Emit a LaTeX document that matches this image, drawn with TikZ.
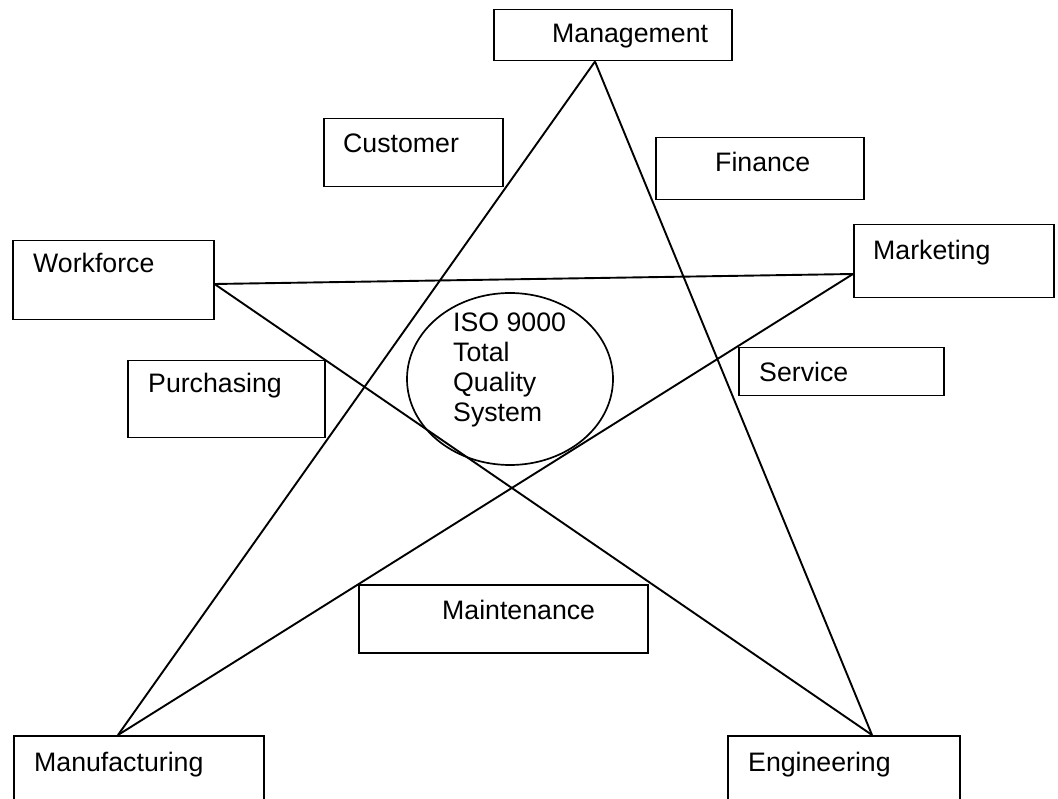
\documentclass[tikz,border=0pt]{standalone}
\usepackage{fontspec}
\setmainfont{Liberation Sans}
\usetikzlibrary{calc,shapes.geometric}
\begin{document}
\begin{tikzpicture}[x=1pt,y=-1pt,
  box/.style={draw, line width=1.5pt, rectangle, inner sep=0pt, anchor=north west},
  lbl/.style={anchor=base west, inner sep=0pt, font=\fontsize{26.7}{30}\selectfont},
  link/.style={line width=1.9pt}]
\useasboundingbox (0,0) rectangle (1058,799);
\clip (0,0) rectangle (1058,799);

% department boxes
\node[box, minimum width=238pt, minimum height=51pt] (mgmt)  at (493,9)   {};
\node[box, minimum width=179pt, minimum height=68pt] (cust)  at (323,118) {};
\node[box, minimum width=208pt, minimum height=62pt] (fin)   at (655,137) {};
\node[box, minimum width=201pt, minimum height=79pt] (work)  at (12,240)  {};
\node[box, minimum width=200pt, minimum height=73pt] (mkt)   at (853,224) {};
\node[box, minimum width=197pt, minimum height=77pt] (purch) at (127,360) {};
\node[box, minimum width=205pt, minimum height=48pt] (serv)  at (738,347) {};
\node[box, minimum width=289pt, minimum height=68pt] (maint) at (358,584) {};
\node[box, minimum width=250pt, minimum height=90pt] (manuf) at (13,735)  {};
\node[box, minimum width=232pt, minimum height=90pt] (eng)   at (727,735) {};

% box labels
\node[lbl] at (552,43)  {Management};
\node[lbl] at (343,153) {Customer};
\node[lbl] at (715,172) {Finance};
\node[lbl] at (33,273)  {Workforce};
\node[lbl] at (873,260) {Marketing};
\node[lbl] at (148,393) {Purchasing};
\node[lbl] at (759,382) {Service};
\node[lbl] at (442,619) {Maintenance};
\node[lbl] at (34,771)  {Manufacturing};
\node[lbl] at (748,771) {Engineering};

% central quality system
\node[draw, ellipse, line width=1.7pt, inner sep=0pt,
      minimum width=206pt, minimum height=172pt] (iso) at (510,379) {};
\node[anchor=north west, inner sep=0pt, align=left,
      font=\fontsize{26.7}{30}\selectfont] (isotext) at (453,313)
  {ISO 9000\\Total\\Quality\\System};

% star points on the box edges
\coordinate (pTop)   at ($(mgmt.south west)+(102,0)$);
\coordinate (pWork)  at ($(work.north east)+(0,44)$);
\coordinate (pMkt)   at ($(mkt.north west)+(0,50)$);
\coordinate (pManuf) at ($(manuf.north west)+(105,0)$);
\coordinate (pEng)   at ($(eng.north west)+(145,0)$);

% five-pointed star
\draw[link] (pTop) -- (pManuf);
\draw[link] (pTop) -- (pEng);
\draw[link] (pWork) -- (pMkt);
\draw[link] (pWork) -- (pEng);
\draw[link] (pMkt) -- (pManuf);
\end{tikzpicture}
\end{document}
